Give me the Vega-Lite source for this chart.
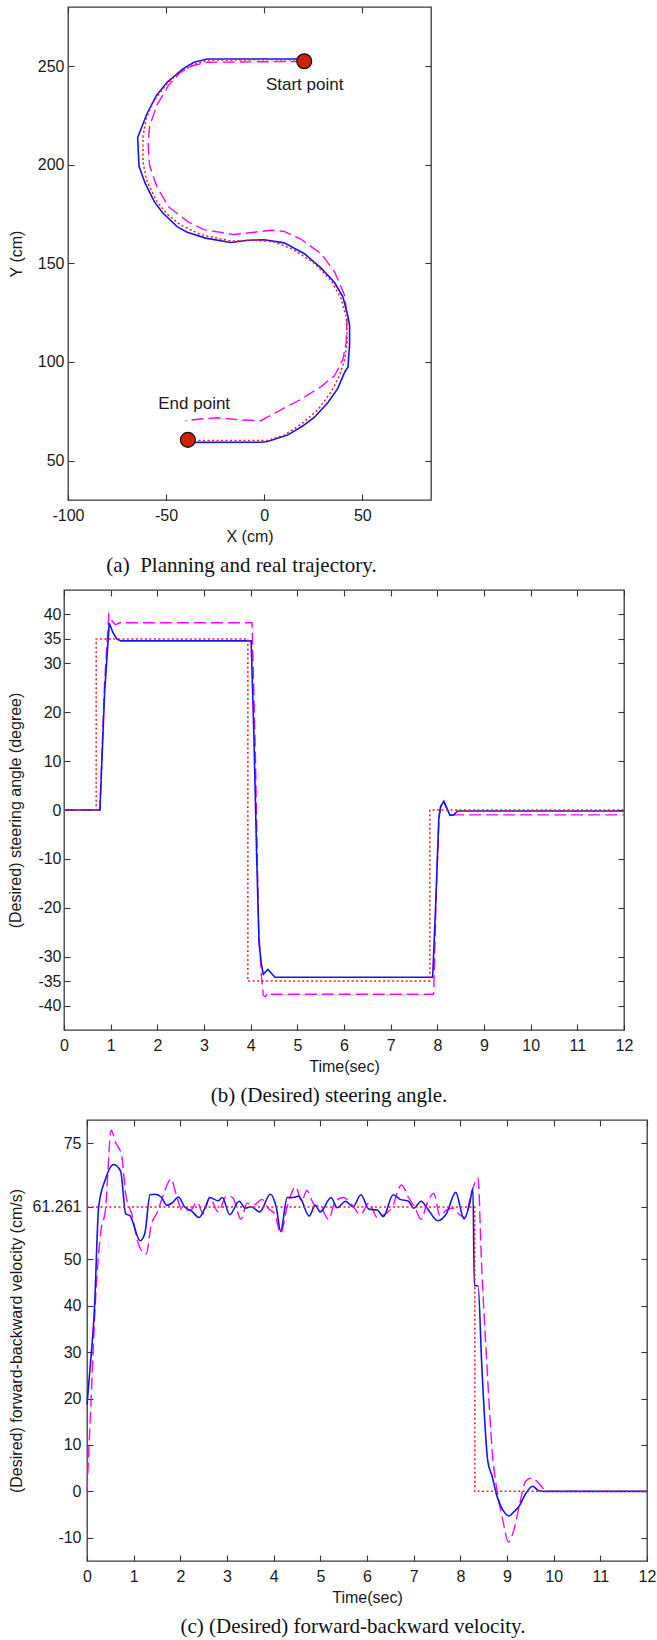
{
  "$schema": "https://vega.github.io/schema/vega-lite/v6.json",
  "background": "white",
  "padding": {"left": 6, "top": 5, "right": 0, "bottom": 0},
  "spacing": {"row": 11, "column": 0},
  "columns": 2,
  "align": "none",
  "bounds": "full",
  "config": {
    "view": {"stroke": "#3a3a3a", "strokeWidth": 1.3},
    "font": "Liberation Sans",
    "axis": {"grid": false, "domain": false, "tickColor": "#333333", "tickSize": -6, "tickWidth": 1.1, "labelFont": "Liberation Sans", "labelFontSize": 16, "labelColor": "#1a1a1a", "titleFont": "Liberation Sans", "titleFontSize": 16, "titleFontWeight": "normal", "titleColor": "#1a1a1a", "minExtent": 0, "labelFlush": false, "labelOverlap": false},
    "title": {"font": "Liberation Serif", "fontSize": 21, "fontWeight": "normal", "orient": "bottom", "anchor": "middle", "offset": 10.5, "color": "#111111"}
  },
  "datasets": {
    "spacer": [{"s": 0}],
    "a_real": [{"x":20.5,"y":253.6},{"x":-29,"y":253.6},{"x":-35.8,"y":252},{"x":-41.8,"y":248.4},{"x":-49.5,"y":241.8},{"x":-55,"y":235},{"x":-59.7,"y":226},{"x":-64.5,"y":213.8},{"x":-63.8,"y":199.2},{"x":-60.6,"y":190.4},{"x":-56,"y":181.3},{"x":-52,"y":175.9},{"x":-44.4,"y":168.6},{"x":-39.2,"y":165.8},{"x":-29.9,"y":162.8},{"x":-17,"y":160.6},{"x":-8.5,"y":161.7},{"x":0,"y":162},{"x":10.2,"y":160.4},{"x":20.5,"y":154.9},{"x":29,"y":147.6},{"x":35.8,"y":140.3},{"x":40.1,"y":133},{"x":42.7,"y":123},{"x":43.5,"y":118.5},{"x":43.5,"y":108.5},{"x":42.7,"y":97.5},{"x":41,"y":94.8},{"x":37.5,"y":86.6},{"x":32.4,"y":79.3},{"x":25.6,"y":72},{"x":19.6,"y":67.5},{"x":11.9,"y":62.9},{"x":1.7,"y":59.7},{"x":-1.7,"y":59.3},{"x":-38,"y":59.2}],
    "a_plan": [{"x":20.5,"y":253.3},{"x":-28.2,"y":253.1},{"x":-34.1,"y":251.5},{"x":-42.7,"y":247.3},{"x":-49.5,"y":241.1},{"x":-56.3,"y":232.3},{"x":-60.2,"y":223.2},{"x":-61.8,"y":214.1},{"x":-61.8,"y":201.4},{"x":-59.7,"y":191.3},{"x":-54.6,"y":181.3},{"x":-49.5,"y":175},{"x":-42.7,"y":169.5},{"x":-32.4,"y":164.6},{"x":-17,"y":161.3},{"x":-5.1,"y":161.7},{"x":5.1,"y":160.9},{"x":15.4,"y":156.7},{"x":25.6,"y":150},{"x":34.1,"y":141.3},{"x":39.2,"y":132.1},{"x":41.8,"y":123},{"x":42.3,"y":110.3},{"x":41,"y":101.2},{"x":38.4,"y":93},{"x":34.1,"y":84.8},{"x":27.3,"y":75.7},{"x":18.8,"y":68.4},{"x":10.2,"y":62.9},{"x":1.7,"y":60.2},{"x":-6.8,"y":60.2},{"x":-38,"y":60.2}],
    "a_other": [{"x":19.6,"y":252.4},{"x":-29,"y":252},{"x":-36.7,"y":250.2},{"x":-42.7,"y":246.9},{"x":-48.6,"y":240.5},{"x":-54.6,"y":230.5},{"x":-58.4,"y":219.6},{"x":-59.2,"y":210.5},{"x":-58.4,"y":199.5},{"x":-54.6,"y":188.6},{"x":-48.6,"y":178.6},{"x":-39.2,"y":171.3},{"x":-30.7,"y":167.1},{"x":-15.4,"y":164.6},{"x":-5.1,"y":165.8},{"x":3.4,"y":166.8},{"x":10.2,"y":166.2},{"x":18.8,"y":162.2},{"x":29,"y":154.9},{"x":35.8,"y":145.8},{"x":40.9,"y":134},{"x":42.3,"y":123},{"x":41.8,"y":110.3},{"x":40.1,"y":101.2},{"x":35.8,"y":93},{"x":29,"y":87.5},{"x":18.8,"y":81.1},{"x":8.5,"y":75.7},{"x":-1.7,"y":70.2},{"x":-11.9,"y":70.6},{"x":-23.9,"y":71.7},{"x":-32.4,"y":71.1},{"x":-40.1,"y":70.2}],
    "a_marks": [{"x":20.4,"y":252.5},{"x":-38.9,"y":60.5}],
    "a_text": [{"x":20.6,"y":240.6,"label":"Start point"},{"x":-35.7,"y":78.6,"label":"End point"}],
    "b_des": [{"t":0,"v":0},{"t":0.69,"v":0},{"t":0.69,"v":35},{"t":3.94,"v":35},{"t":3.94,"v":-35},{"t":7.84,"v":-35},{"t":7.84,"v":0},{"t":12,"v":0}],
    "b_real": [{"t":0,"v":0},{"t":0.77,"v":0},{"t":0.87,"v":24},{"t":0.97,"v":38.2},{"t":1.05,"v":36.3},{"t":1.13,"v":35},{"t":1.22,"v":34.6},{"t":4.01,"v":34.6},{"t":4.07,"v":15},{"t":4.13,"v":-10},{"t":4.18,"v":-27.3},{"t":4.23,"v":-31.5},{"t":4.27,"v":-33.6},{"t":4.37,"v":-32.6},{"t":4.52,"v":-34.2},{"t":7.9,"v":-34.2},{"t":7.97,"v":-18},{"t":8.03,"v":-2},{"t":8.07,"v":0.7},{"t":8.14,"v":1.8},{"t":8.2,"v":0.5},{"t":8.27,"v":-1.1},{"t":8.35,"v":-1.0},{"t":8.44,"v":-0.2},{"t":12,"v":-0.2}],
    "b_other": [{"t":0,"v":0},{"t":0.77,"v":0},{"t":0.87,"v":26},{"t":0.96,"v":40},{"t":1.02,"v":38.8},{"t":1.1,"v":37.9},{"t":1.2,"v":38.3},{"t":4.03,"v":38.3},{"t":4.1,"v":12},{"t":4.17,"v":-24},{"t":4.23,"v":-34},{"t":4.27,"v":-37.9},{"t":4.32,"v":-38.2},{"t":4.37,"v":-37.3},{"t":4.44,"v":-37.7},{"t":7.92,"v":-37.7},{"t":7.98,"v":-16},{"t":8.04,"v":-1},{"t":8.08,"v":1.0},{"t":8.13,"v":1.8},{"t":8.2,"v":0.3},{"t":8.28,"v":-1.0},{"t":12,"v":-1.0}],
    "c_des": [{"t":0,"v":61.261},{"t":8.31,"v":61.261},{"t":8.31,"v":0},{"t":12,"v":0}],
    "c_real": [{"t":0,"v":18.7},{"t":0.07,"v":27},{"t":0.16,"v":39.4},{"t":0.25,"v":61.3},{"t":0.39,"v":67.1},{"t":0.57,"v":70.4},{"t":0.72,"v":69},{"t":0.83,"v":59.8},{"t":0.92,"v":59.4},{"t":1.14,"v":54},{"t":1.24,"v":55.6},{"t":1.35,"v":63.9},{"t":1.46,"v":64},{"t":1.6,"v":63.3},{"t":1.71,"v":61.6},{"t":1.82,"v":62.1},{"t":1.96,"v":63.4},{"t":2.09,"v":61.3},{"t":2.25,"v":60.3},{"t":2.4,"v":59},{"t":2.54,"v":61.3},{"t":2.63,"v":63.3},{"t":2.81,"v":62.6},{"t":2.9,"v":63.3},{"t":3.06,"v":59.6},{"t":3.26,"v":62.5},{"t":3.39,"v":61},{"t":3.52,"v":61.3},{"t":3.7,"v":60.2},{"t":3.93,"v":64},{"t":4.06,"v":61},{"t":4.15,"v":56},{"t":4.29,"v":63.3},{"t":4.42,"v":63.3},{"t":4.54,"v":63.6},{"t":4.76,"v":59.3},{"t":4.89,"v":61.6},{"t":5.0,"v":60.2},{"t":5.23,"v":63.3},{"t":5.36,"v":61.1},{"t":5.54,"v":62.5},{"t":5.7,"v":61.3},{"t":5.87,"v":63.9},{"t":6.04,"v":60.8},{"t":6.22,"v":60.6},{"t":6.35,"v":59.2},{"t":6.56,"v":63.9},{"t":6.71,"v":62.9},{"t":6.89,"v":62.5},{"t":7.0,"v":61},{"t":7.16,"v":62.5},{"t":7.29,"v":61},{"t":7.52,"v":58.3},{"t":7.7,"v":59.8},{"t":7.9,"v":64.4},{"t":8.08,"v":58.7},{"t":8.2,"v":62},{"t":8.27,"v":65.2},{"t":8.3,"v":44.3},{"t":8.38,"v":44.3},{"t":8.46,"v":27},{"t":8.59,"v":6.4},{"t":8.68,"v":3.3},{"t":8.77,"v":-0.5},{"t":8.91,"v":-4},{"t":9.04,"v":-5.3},{"t":9.15,"v":-4.4},{"t":9.26,"v":-3.2},{"t":9.4,"v":-0.5},{"t":9.55,"v":1.1},{"t":9.67,"v":0.2},{"t":9.8,"v":0},{"t":12,"v":0}],
    "c_other": [{"t":0,"v":0},{"t":0.07,"v":15.6},{"t":0.19,"v":42.5},{"t":0.3,"v":56.3},{"t":0.39,"v":60.2},{"t":0.52,"v":77.8},{"t":0.61,"v":75.2},{"t":0.74,"v":72.5},{"t":0.83,"v":64},{"t":0.97,"v":59.4},{"t":1.1,"v":53.3},{"t":1.27,"v":51.1},{"t":1.37,"v":57.1},{"t":1.51,"v":60.2},{"t":1.64,"v":64},{"t":1.8,"v":67.3},{"t":1.91,"v":64},{"t":2.04,"v":60.6},{"t":2.22,"v":60.6},{"t":2.36,"v":62.3},{"t":2.49,"v":59.8},{"t":2.63,"v":63.3},{"t":2.81,"v":60.2},{"t":2.99,"v":63.6},{"t":3.12,"v":63.3},{"t":3.3,"v":58.6},{"t":3.43,"v":62.1},{"t":3.57,"v":61.7},{"t":3.75,"v":62.9},{"t":3.88,"v":61},{"t":4.02,"v":59.8},{"t":4.15,"v":55.6},{"t":4.29,"v":61.3},{"t":4.47,"v":65.6},{"t":4.6,"v":62.5},{"t":4.71,"v":64.8},{"t":4.87,"v":61.7},{"t":5.0,"v":61.3},{"t":5.18,"v":58.6},{"t":5.32,"v":62.5},{"t":5.5,"v":63.3},{"t":5.68,"v":61.7},{"t":5.86,"v":59.6},{"t":6.04,"v":62.1},{"t":6.22,"v":59},{"t":6.39,"v":59.8},{"t":6.53,"v":61},{"t":6.74,"v":66},{"t":6.89,"v":63.3},{"t":7.02,"v":61.3},{"t":7.16,"v":58.6},{"t":7.29,"v":62.1},{"t":7.43,"v":64.2},{"t":7.56,"v":59.4},{"t":7.7,"v":60.6},{"t":7.83,"v":61},{"t":7.96,"v":59.8},{"t":8.1,"v":59},{"t":8.23,"v":64},{"t":8.38,"v":67.5},{"t":8.45,"v":50.2},{"t":8.57,"v":27.1},{"t":8.69,"v":7.9},{"t":8.82,"v":-1.7},{"t":8.92,"v":-6.7},{"t":9.03,"v":-10.9},{"t":9.14,"v":-8.6},{"t":9.27,"v":-2.8},{"t":9.4,"v":2.2},{"t":9.53,"v":2.9},{"t":9.71,"v":1.4},{"t":9.85,"v":0},{"t":12,"v":0}]
  },
  "concat": [
    {
      "width": 1, "height": 4,
      "view": {"stroke": null},
      "data": {"name": "spacer"},
      "mark": {"type": "point", "size": 1, "opacity": 0}
    },
    {
      "width": 363,
      "height": 493,
      "title": {"text": "(a)\u00a0 Planning and real trajectory.", "dx": -8},
      "resolve": {"axis": {"x": "independent", "y": "independent"}},
      "layer": [
        {
          "data": {"name": "a_other"},
          "mark": {"type": "line", "color": "#ff00ff", "strokeWidth": 1.4, "strokeDash": [12, 5]},
          "encoding": {
            "x": {"field": "x", "type": "quantitative", "scale": {"domain": [-100, 85], "nice": false, "zero": false}, "axis": null},
            "y": {"field": "y", "type": "quantitative", "scale": {"domain": [30, 280], "nice": false, "zero": false}, "axis": null},
            "order": {"value": null}
          }
        },
        {
          "data": {"name": "a_real"},
          "mark": {"type": "line", "color": "#1414f0", "strokeWidth": 1.6},
          "encoding": {
            "x": {"field": "x", "type": "quantitative", "scale": {"domain": [-100, 85], "nice": false, "zero": false}, "axis": {"orient": "bottom", "values": [-100, -50, 0, 50], "title": "X (cm)", "labelPadding": 13, "titlePadding": 5.5, "labelExpr": "'' + datum.value"}},
            "y": {"field": "y", "type": "quantitative", "scale": {"domain": [30, 280], "nice": false, "zero": false}, "axis": {"orient": "left", "values": [50, 100, 150, 200, 250], "title": "Y (cm)", "labelPadding": 10, "titlePadding": 13}},
            "order": {"value": null}
          }
        },
        {
          "data": {"name": "a_plan"},
          "mark": {"type": "line", "color": "#ff1a1a", "strokeWidth": 1.5, "strokeDash": [2, 2.5]},
          "encoding": {
            "x": {"field": "x", "type": "quantitative", "scale": {"domain": [-100, 85], "nice": false, "zero": false}, "axis": null},
            "y": {"field": "y", "type": "quantitative", "scale": {"domain": [30, 280], "nice": false, "zero": false}, "axis": null},
            "order": {"value": null}
          }
        },
        {
          "data": {"name": "a_marks"},
          "mark": {"type": "point", "shape": "circle", "filled": true, "fill": "#cc2200", "stroke": "#111111", "strokeWidth": 1.3, "size": 220, "opacity": 1},
          "encoding": {
            "x": {"field": "x", "type": "quantitative", "scale": {"domain": [-100, 85], "nice": false, "zero": false}, "axis": null},
            "y": {"field": "y", "type": "quantitative", "scale": {"domain": [30, 280], "nice": false, "zero": false}, "axis": null}
          }
        },
        {
          "data": {"name": "a_text"},
          "mark": {"type": "text", "fontSize": 17, "font": "Liberation Sans", "color": "#1a1a1a", "align": "center", "baseline": "middle"},
          "encoding": {
            "x": {"field": "x", "type": "quantitative", "scale": {"domain": [-100, 85], "nice": false, "zero": false}, "axis": null},
            "y": {"field": "y", "type": "quantitative", "scale": {"domain": [30, 280], "nice": false, "zero": false}, "axis": null},
            "text": {"field": "label"}
          }
        },
        {
          "data": {"name": "a_marks"},
          "mark": {"type": "point", "opacity": 0},
          "encoding": {
            "x": {"field": "x", "type": "quantitative", "scale": {"domain": [-100, 85], "nice": false, "zero": false}, "axis": {"orient": "top", "values": [-100, -50, 0, 50], "labels": false, "title": null}},
            "y": {"field": "y", "type": "quantitative", "scale": {"domain": [30, 280], "nice": false, "zero": false}, "axis": {"orient": "right", "values": [50, 100, 150, 200, 250], "labels": false, "title": null}}
          }
        }
      ]
    },
    {
      "width": 1, "height": 4,
      "view": {"stroke": null},
      "data": {"name": "spacer"},
      "mark": {"type": "point", "size": 1, "opacity": 0}
    },
    {
      "width": 560,
      "height": 440,
      "title": {"text": "(b) (Desired) steering angle.", "dx": -15},
      "resolve": {"axis": {"x": "independent", "y": "independent"}},
      "layer": [
        {
          "data": {"name": "b_other"},
          "mark": {"type": "line", "color": "#ff00ff", "strokeWidth": 1.4, "strokeDash": [12, 5]},
          "encoding": {
            "x": {"field": "t", "type": "quantitative", "scale": {"domain": [0, 12], "nice": false, "zero": false}, "axis": null},
            "y": {"field": "v", "type": "quantitative", "scale": {"domain": [-45, 45], "nice": false, "zero": false}, "axis": null},
            "order": {"value": null}
          }
        },
        {
          "data": {"name": "b_real"},
          "mark": {"type": "line", "color": "#1414f0", "strokeWidth": 1.6},
          "encoding": {
            "x": {"field": "t", "type": "quantitative", "scale": {"domain": [0, 12], "nice": false, "zero": false}, "axis": {"orient": "bottom", "values": [0, 1, 2, 3, 4, 5, 6, 7, 8, 9, 10, 11, 12], "title": "Time(sec)", "labelPadding": 13, "titlePadding": 5.5}},
            "y": {"field": "v", "type": "quantitative", "scale": {"domain": [-45, 45], "nice": false, "zero": false}, "axis": {"orient": "left", "values": [-40, -35, -30, -20, -10, 0, 10, 20, 30, 35, 40], "title": "(Desired) steering angle (degree)", "labelPadding": 9, "titlePadding": 14, "labelExpr": "'' + datum.value"}},
            "order": {"value": null}
          }
        },
        {
          "data": {"name": "b_des"},
          "mark": {"type": "line", "color": "#ff1a1a", "strokeWidth": 1.5, "strokeDash": [2, 2.5]},
          "encoding": {
            "x": {"field": "t", "type": "quantitative", "scale": {"domain": [0, 12], "nice": false, "zero": false}, "axis": null},
            "y": {"field": "v", "type": "quantitative", "scale": {"domain": [-45, 45], "nice": false, "zero": false}, "axis": null},
            "order": {"value": null}
          }
        },
        {
          "data": {"name": "b_des"},
          "mark": {"type": "point", "opacity": 0},
          "encoding": {
            "x": {"field": "t", "type": "quantitative", "scale": {"domain": [0, 12], "nice": false, "zero": false}, "axis": {"orient": "top", "values": [0, 1, 2, 3, 4, 5, 6, 7, 8, 9, 10, 11, 12], "labels": false, "title": null}},
            "y": {"field": "v", "type": "quantitative", "scale": {"domain": [-45, 45], "nice": false, "zero": false}, "axis": {"orient": "right", "values": [-40, -35, -30, -20, -10, 0, 10, 20, 30, 35, 40], "labels": false, "title": null}}
          }
        }
      ]
    },
    {
      "width": 1, "height": 4,
      "view": {"stroke": null},
      "data": {"name": "spacer"},
      "mark": {"type": "point", "size": 1, "opacity": 0}
    },
    {
      "width": 560,
      "height": 441,
      "title": {"text": "(c) (Desired) forward-backward velocity.", "dx": -14},
      "resolve": {"axis": {"x": "independent", "y": "independent"}},
      "layer": [
        {
          "data": {"name": "c_other"},
          "mark": {"type": "line", "color": "#ff00ff", "strokeWidth": 1.4, "strokeDash": [12, 5], "interpolate": "monotone"},
          "encoding": {
            "x": {"field": "t", "type": "quantitative", "scale": {"domain": [0, 12], "nice": false, "zero": false}, "axis": null},
            "y": {"field": "v", "type": "quantitative", "scale": {"domain": [-15, 80], "nice": false, "zero": false}, "axis": null},
            "order": {"value": null}
          }
        },
        {
          "data": {"name": "c_real"},
          "mark": {"type": "line", "color": "#1414f0", "strokeWidth": 1.6, "interpolate": "monotone"},
          "encoding": {
            "x": {"field": "t", "type": "quantitative", "scale": {"domain": [0, 12], "nice": false, "zero": false}, "axis": {"orient": "bottom", "values": [0, 1, 2, 3, 4, 5, 6, 7, 8, 9, 10, 11, 12], "title": "Time(sec)", "labelPadding": 13, "titlePadding": 5.5}},
            "y": {"field": "v", "type": "quantitative", "scale": {"domain": [-15, 80], "nice": false, "zero": false}, "axis": {"orient": "left", "values": [-10, 0, 10, 20, 30, 40, 50, 61.261, 75], "title": "(Desired) forward-backward velocity (cm/s)", "labelPadding": 12, "titlePadding": 8, "labelExpr": "'' + datum.value"}},
            "order": {"value": null}
          }
        },
        {
          "data": {"name": "c_des"},
          "mark": {"type": "line", "color": "#ff1a1a", "strokeWidth": 1.5, "strokeDash": [2, 2.5]},
          "encoding": {
            "x": {"field": "t", "type": "quantitative", "scale": {"domain": [0, 12], "nice": false, "zero": false}, "axis": null},
            "y": {"field": "v", "type": "quantitative", "scale": {"domain": [-15, 80], "nice": false, "zero": false}, "axis": null},
            "order": {"value": null}
          }
        },
        {
          "data": {"name": "c_des"},
          "mark": {"type": "point", "opacity": 0},
          "encoding": {
            "x": {"field": "t", "type": "quantitative", "scale": {"domain": [0, 12], "nice": false, "zero": false}, "axis": {"orient": "top", "values": [0, 1, 2, 3, 4, 5, 6, 7, 8, 9, 10, 11, 12], "labels": false, "title": null}},
            "y": {"field": "v", "type": "quantitative", "scale": {"domain": [-15, 80], "nice": false, "zero": false}, "axis": {"orient": "right", "values": [-10, 0, 10, 20, 30, 40, 50, 61.261, 75], "labels": false, "title": null}}
          }
        }
      ]
    }
  ]
}
